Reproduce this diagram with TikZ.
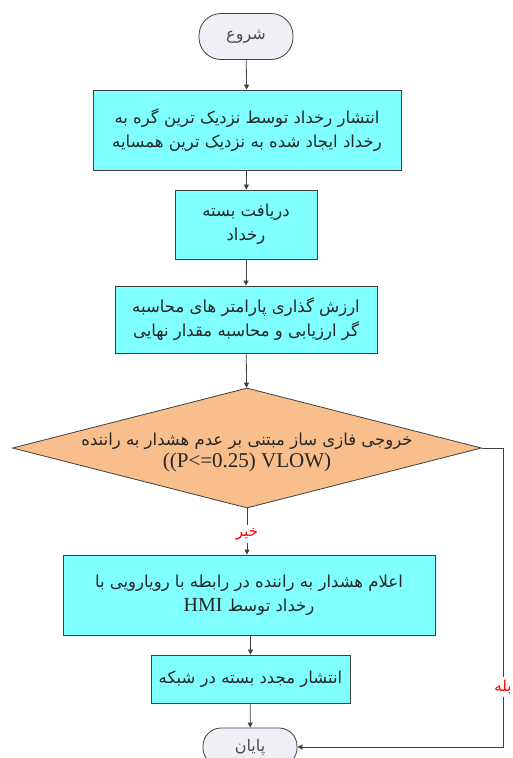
\documentclass[tikz,border=0pt]{standalone}
\usepackage{fontspec}
\setmainfont{Liberation Serif}
\newfontfamily\fa[Script=Arabic]{DejaVu Sans}
\TeXXeTstate=1
\usetikzlibrary{shapes.geometric,arrows.meta}
\definecolor{lineC}{HTML}{404040}
\definecolor{cyanC}{HTML}{7FFFFF}
\definecolor{orangeC}{HTML}{F8BE8C}
\definecolor{termC}{HTML}{EEF0F5}
\tikzset{
  proc/.style={draw=lineC, fill=cyanC, line width=0.8pt, inner sep=0pt, align=center,
    font=\fa\fontsize{16.5}{24}\selectfont, text=black!85},
  term/.style={draw=lineC, fill=termC, line width=0.8pt, inner sep=0pt, rounded corners=18pt,
    minimum width=94pt, font=\fa\fontsize{16}{18}\selectfont, text=black!70},
  dec/.style={diamond, draw=lineC, fill=orangeC, line width=0.8pt, inner sep=0pt,
    aspect=3.9, minimum width=469pt, minimum height=120pt},
  conn/.style={draw=lineC, line width=0.8pt, -{Triangle[length=5pt,width=5pt]}},
  lbl/.style={text=red, fill=white, inner sep=3pt, font=\fa\fontsize{15}{16}\selectfont}
}
\begin{document}
\begin{tikzpicture}[x=1pt,y=-1pt]
\useasboundingbox[fill=white] (0,0) rectangle (513,758);
\node[term, minimum height=46pt, rounded corners=22pt] (start) at (246,36.5) {\beginR شروع\endR};
\node[proc, minimum width=308pt, minimum height=80pt] (b1) at (247,130)
  {\beginR انتشار رخداد توسط نزدیک ترین گره به\endR\\\beginR رخداد ایجاد شده به نزدیک ترین همسایه\endR};
\node[proc, minimum width=142pt, minimum height=69pt] (b2) at (246,224.5)
  {\beginR دریافت بسته\endR\\\beginR رخداد\endR};
\node[proc, minimum width=262pt, minimum height=67pt] (b3) at (246,319.5)
  {\beginR ارزش گذاری پارامتر های محاسبه\endR\\\beginR گر ارزیابی و محاسبه مقدار نهایی\endR};
\node[dec] (d) at (247,448) {};
\node[align=center, font=\fontsize{21}{22}\selectfont, text=black!85] (dt) at (247,452)
  {{\fa\fontsize{16.5}{20}\selectfont\beginR خروجی فازی ساز مبتنی بر عدم هشدار به راننده\endR}\\((P<=0.25) VLOW)};
\node[proc, minimum width=372pt, minimum height=80pt] (b4) at (249,595)
  {\beginR اعلام هشدار به راننده  در رابطه با رویارویی با\endR\\\beginR رخداد توسط \beginL{\rmfamily\fontsize{20}{24}\selectfont HMI}\endL\endR};
\node[proc, minimum width=199pt, minimum height=48pt] (b5) at (250.5,679)
  {\beginR انتشار مجدد بسته در شبکه\endR};
\node[term, minimum height=38pt] (end) at (250,747) {\beginR پایان\endR};
\coordinate (r1) at (503,448);
\coordinate (r2) at (503,747);
\draw[conn] (start) -- (b1);
\draw[conn] (b1) -- (b2);
\draw[conn] (b2) -- (b3);
\draw[conn] (b3) -- (d);
\draw[conn] (d.south) -- (d.south |- b4.north) node[lbl, pos=0.55] {\beginR خیر\endR};
\draw[conn] (b4.south -| b5.north) -- (b5);
\draw[conn] (b5) -- (end);
\draw[conn] (d.east) -- (r1) -- (r2) node[lbl, pos=0.8] {\beginR بله\endR} -- (end.east);
\end{tikzpicture}
\end{document}
